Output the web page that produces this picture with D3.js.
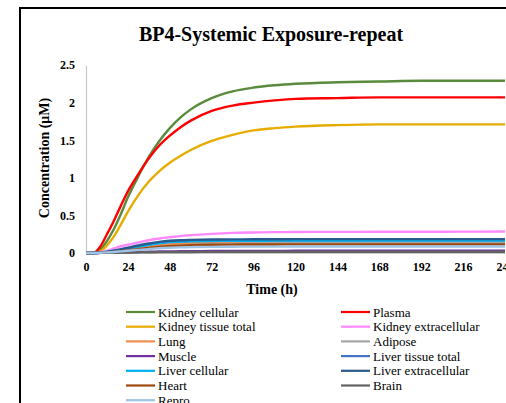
<!DOCTYPE html>
<html>
<head>
<meta charset="utf-8">
<script src="https://cdn.jsdelivr.net/npm/d3@7.9.0/dist/d3.min.js"></script>
<style>
  body { margin: 0; background: #fff; }
  svg { display: block; }
  text { font-family: "Liberation Serif", "Times New Roman", "DejaVu Serif", serif; }
</style>
</head>
<body>
<svg id="chart" width="506" height="403"></svg>
<script>
// sample times (h)
const times = [0, 4, 8, 12, 16, 20, 24, 30, 36, 42, 48, 54, 60, 72, 84, 96, 108, 120, 144, 168, 192, 216, 240];

// concentrations (uM)
const kidneyCellular      = [0, 0, 0.04, 0.16, 0.32, 0.52, 0.74, 1.02, 1.28, 1.49, 1.66, 1.80, 1.91, 2.06, 2.15, 2.20, 2.23, 2.25, 2.27, 2.28, 2.29, 2.29, 2.29];
const plasma              = [0, 0, 0.08, 0.25, 0.43, 0.63, 0.82, 1.05, 1.26, 1.43, 1.56, 1.67, 1.76, 1.89, 1.96, 2.00, 2.03, 2.05, 2.06, 2.07, 2.07, 2.07, 2.07];
const kidneyTissueTotal   = [0, 0, 0.02, 0.10, 0.22, 0.38, 0.55, 0.77, 0.95, 1.09, 1.20, 1.29, 1.37, 1.49, 1.57, 1.63, 1.66, 1.68, 1.70, 1.71, 1.71, 1.71, 1.71];
const kidneyExtracellular = [0, 0, 0.01, 0.03, 0.06, 0.09, 0.11, 0.14, 0.17, 0.193, 0.21, 0.225, 0.237, 0.255, 0.267, 0.273, 0.277, 0.279, 0.281, 0.282, 0.283, 0.284, 0.285];
const lung                = [0, 0, 0.005, 0.01, 0.02, 0.035, 0.05, 0.07, 0.09, 0.105, 0.117, 0.126, 0.132, 0.14, 0.144, 0.146, 0.148, 0.149, 0.15, 0.15, 0.15, 0.15, 0.15];
const adipose             = [0, 0, 0.002, 0.006, 0.012, 0.02, 0.03, 0.045, 0.06, 0.075, 0.088, 0.098, 0.106, 0.116, 0.122, 0.126, 0.128, 0.13, 0.131, 0.132, 0.132, 0.132, 0.132];
const muscle              = [0, 0, 0.001, 0.003, 0.005, 0.008, 0.01, 0.013, 0.016, 0.019, 0.021, 0.023, 0.024, 0.026, 0.027, 0.028, 0.028, 0.029, 0.029, 0.03, 0.03, 0.03, 0.03];
const liverTissueTotal    = [0, 0, 0.005, 0.014, 0.028, 0.045, 0.065, 0.092, 0.117, 0.137, 0.15, 0.157, 0.161, 0.166, 0.168, 0.169, 0.17, 0.17, 0.17, 0.171, 0.171, 0.171, 0.171];
const liverCellular       = [0, 0, 0.004, 0.013, 0.026, 0.042, 0.06, 0.087, 0.11, 0.13, 0.144, 0.151, 0.156, 0.16, 0.162, 0.163, 0.164, 0.165, 0.165, 0.165, 0.165, 0.165, 0.165];
const liverExtracellular  = [0, 0, 0.005, 0.015, 0.03, 0.05, 0.07, 0.10, 0.127, 0.148, 0.162, 0.17, 0.174, 0.179, 0.181, 0.182, 0.183, 0.184, 0.185, 0.185, 0.185, 0.185, 0.185];
const heart               = [0, 0, 0.003, 0.008, 0.015, 0.025, 0.036, 0.052, 0.068, 0.081, 0.091, 0.098, 0.103, 0.109, 0.112, 0.113, 0.114, 0.115, 0.115, 0.115, 0.115, 0.115, 0.115];
const brain               = [0, 0, 0.001, 0.002, 0.003, 0.005, 0.006, 0.008, 0.01, 0.011, 0.012, 0.013, 0.014, 0.015, 0.016, 0.016, 0.017, 0.017, 0.017, 0.017, 0.017, 0.017, 0.017];
const repro               = [0, 0, 0.003, 0.008, 0.014, 0.022, 0.03, 0.042, 0.053, 0.063, 0.07, 0.075, 0.078, 0.082, 0.084, 0.085, 0.085, 0.086, 0.086, 0.086, 0.086, 0.086, 0.086];

const seriesNames = ["Kidney cellular", "Plasma", "Kidney tissue total", "Kidney extracellular",
  "Lung", "Adipose", "Muscle", "Liver tissue total", "Liver cellular", "Liver extracellular",
  "Heart", "Brain", "Repro"];
const seriesValues = [kidneyCellular, plasma, kidneyTissueTotal, kidneyExtracellular,
  lung, adipose, muscle, liverTissueTotal, liverCellular, liverExtracellular,
  heart, brain, repro];
const seriesColors = ["#5a8a3c", "#ff0000", "#e6ac00", "#ff88ff",
  "#ef8c4f", "#a5a5a5", "#7030a0", "#4472c4", "#00b0f0", "#2a5a8c",
  "#9e480e", "#636363", "#9dc3e6"];

const xTicks = [0, 24, 48, 72, 96, 120, 144, 168, 192, 216, 240];
const yTicks = [0, 0.5, 1, 1.5, 2, 2.5];

const svg = d3.select('#chart');

// outer chart border (runs off the right and bottom edges)
svg.append('rect')
  .attr('x', 20).attr('y', 8)
  .attr('width', 520).attr('height', 420)
  .attr('fill', 'none').attr('stroke', '#000').attr('stroke-width', 2);

const x = d3.scaleLinear().domain([0, 240]).range([86, 505]);
const y = d3.scaleLinear().domain([0, 2.5]).range([253, 65]);

svg.append('text')
  .attr('x', 271).attr('y', 41)
  .attr('text-anchor', 'middle')
  .attr('font-size', 20).attr('font-weight', 'bold')
  .text('BP4-Systemic Exposure-repeat');

// axes
const xAxis = svg.append('g')
  .attr('transform', `translate(0,${y(0)})`)
  .call(d3.axisBottom(x).tickValues(xTicks).tickSize(0).tickPadding(9).tickFormat(d3.format('d')));
const yAxis = svg.append('g')
  .attr('transform', `translate(${x(0)},0)`)
  .call(d3.axisLeft(y).tickValues(yTicks).tickSize(0).tickPadding(11).tickFormat(d => d));

[xAxis, yAxis].forEach(g => {
  g.attr('font-family', null);
  g.select('.domain').attr('stroke', '#c8c8c8').attr('stroke-width', 1.2);
  g.selectAll('text')
    .attr('font-size', 12).attr('font-weight', 'bold').attr('fill', '#000');
});

svg.append('text')
  .attr('transform', 'translate(49,158) rotate(-90)')
  .attr('text-anchor', 'middle')
  .attr('font-size', 14).attr('font-weight', 'bold')
  .text('Concentration (μM)');

svg.append('text')
  .attr('x', 272).attr('y', 294)
  .attr('text-anchor', 'middle')
  .attr('font-size', 14).attr('font-weight', 'bold')
  .text('Time (h)');

// lines
const line = d3.line()
  .x((d, i) => x(times[i]))
  .y(d => y(d))
  .curve(d3.curveMonotoneX);

const plot = svg.append('g');
seriesValues.forEach((vals, idx) => {
  plot.append('path')
    .attr('d', line(vals))
    .attr('fill', 'none')
    .attr('stroke', seriesColors[idx])
    .attr('stroke-width', 2.4);
});

// legend, two columns row by row
const legend = svg.append('g');
seriesNames.forEach((name, idx) => {
  const col = idx % 2, row = Math.floor(idx / 2);
  const lx = col === 0 ? 126 : 341;
  const ly = 312 + row * 14.7;
  legend.append('line')
    .attr('x1', lx).attr('x2', lx + 29)
    .attr('y1', ly).attr('y2', ly)
    .attr('stroke', seriesColors[idx]).attr('stroke-width', 2.2);
  legend.append('text')
    .attr('x', lx + 32).attr('y', ly + 4.5)
    .attr('font-size', 13)
    .text(name);
});
</script>
</body>
</html>
